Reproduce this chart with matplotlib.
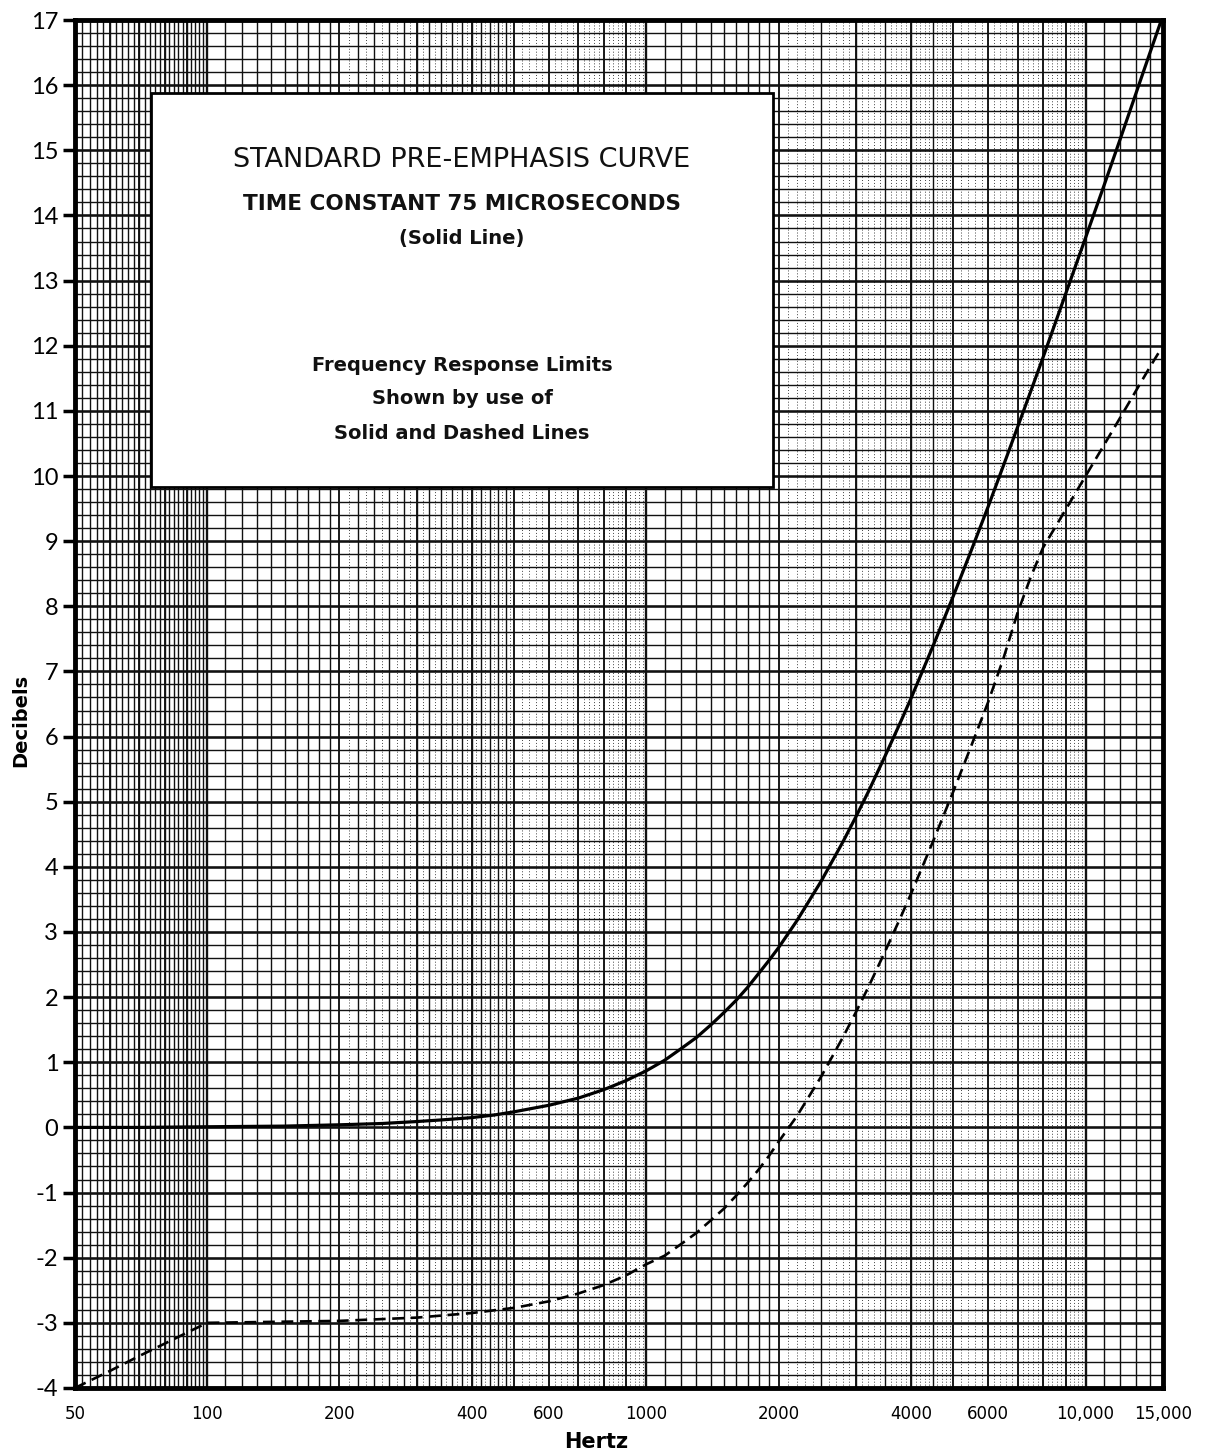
import matplotlib.pyplot as plt
import numpy as np
from matplotlib.patches import Rectangle
from matplotlib.ticker import NullLocator

plt.rcParams['font.family'] = ['DejaVu Sans']
plt.rcParams['axes.unicode_minus'] = False

# --- datos ---
hz_solid = [50, 70, 100, 150, 200, 250, 300, 350, 400, 450, 500, 600, 700, 800, 900,
            1000, 1100, 1200, 1300, 1400, 1500, 1600, 1700, 1800, 1900, 2000, 2200, 2500,
            2800, 3000, 3200, 3500, 3800, 4000, 4200, 4500, 5000, 5500, 6000, 6500, 7000,
            7500, 8000, 8500, 9000, 10000, 11000, 12000, 13000, 14000, 15000]
db_solid = [0.0, 0.0, 0.01, 0.02, 0.04, 0.06, 0.09, 0.12, 0.15, 0.19, 0.24, 0.34, 0.45, 0.58, 0.72,
            0.87, 1.03, 1.21, 1.38, 1.57, 1.76, 1.95, 2.15, 2.36, 2.56, 2.76, 3.17, 3.78,
            4.38, 4.77, 5.15, 5.71, 6.24, 6.58, 6.92, 7.40, 8.16, 8.87, 9.53, 10.16, 10.75,
            11.30, 11.82, 12.32, 12.79, 13.66, 14.45, 15.18, 15.86, 16.49, 17.07]

hz_dashed = [50, 60, 70, 80, 90, 100, 200, 300, 400, 500, 600, 700, 800, 900,
             1000, 1100, 1200, 1300, 1400, 1500, 1600, 1700, 1800, 1900, 2000, 2200, 2500,
             2800, 3000, 3200, 3500, 3800, 4000, 4500, 5000, 5500, 6000, 6500, 7000, 7500,
             8000, 9000, 10000, 11000, 12000, 13000, 14000, 15000]
db_dashed = [-4.0, -3.74, -3.51, -3.32, -3.15, -3.0, -2.97, -2.92, -2.85, -2.77, -2.67, -2.55, -2.42, -2.27,
             -2.1, -1.97, -1.79, -1.62, -1.43, -1.25, -1.05, -0.85, -0.65, -0.44, -0.22, 0.17, 0.78,
             1.38, 1.77, 2.15, 2.71, 3.24, 3.58, 4.40, 5.16, 5.87, 6.53, 7.2, 7.9, 8.45,
             8.9, 9.48, 10.0, 10.47, 10.9, 11.3, 11.67, 12.0]

x_ticks = [50, 100, 200, 400, 600, 1000, 2000, 4000, 6000, 10000, 15000]
x_labels = ['50', '100', '200', '400', '600', '1000', '2000', '4000', '6000', '10,000', '15,000']
y_ticks = list(range(-4, 18))

box_lines = [
    ('STANDARD PRE-EMPHASIS CURVE', 0.8977, 19.5, 'normal'),
    ('TIME CONSTANT 75 MICROSECONDS', 0.8655, 15.5, 'bold'),
    ('(Solid Line)', 0.8406, 14, 'bold'),
    ('Frequency Response Limits', 0.7471, 14, 'bold'),
    ('Shown by use of', 0.7230, 14, 'bold'),
    ('Solid and Dashed Lines', 0.6981, 14, 'bold'),
]

INK = '#111111'

fig = plt.figure(figsize=(12.05, 14.52), dpi=100)
ax = fig.add_axes([0.0622, 0.0441, 0.9029, 0.9421])
ax.set_xscale('log')
ax.set_xlim(50, 15000)
ax.set_ylim(-4, 17)

# --- papel semilogarítmico ---
# líneas punteadas finas (textura del papel)
fine = np.concatenate([np.arange(210, 500, 10), np.arange(520, 1000, 20),
                       np.arange(2100, 5000, 100), np.arange(5200, 10000, 200)])
ax.vlines(fine, -4, 17, colors='#444444', lw=0.7, linestyles=(0, (1, 2)), zorder=1)

minor = np.concatenate([np.arange(52, 100, 2), np.arange(110, 200, 10), np.arange(220, 500, 20),
                        np.arange(1100, 2000, 100), np.arange(2500, 5000, 500),
                        np.arange(11000, 15000, 1000)])
ax.vlines(minor, -4, 17, colors=INK, lw=1.0, zorder=1.2)

major = [60, 70, 80, 90, 200, 300, 400, 500, 600, 700, 800, 900,
         2000, 3000, 4000, 5000, 6000, 7000, 8000, 9000]
ax.vlines(major, -4, 17, colors=INK, lw=1.35, zorder=1.3)
ax.vlines([100, 1000, 10000], -4, 17, colors=INK, lw=1.7, zorder=1.3)

ax.hlines(np.arange(-4, 17.01, 0.2), 50, 15000, colors=INK, lw=1.0, zorder=1.2)
ax.hlines(np.arange(-4, 18, 1), 50, 15000, colors=INK, lw=1.8, zorder=1.3)

# --- curvas ---
ax.plot(hz_solid, db_solid, color='black', lw=2.3, zorder=4)
ax.plot(hz_dashed, db_dashed, color='black', lw=1.9, zorder=4, dashes=(4.5, 2.5))

# --- recuadro de texto ---
ax.add_patch(Rectangle((0.0699, 0.6586), 0.5716, 0.288, transform=ax.transAxes,
                       facecolor='white', edgecolor='black', lw=2, zorder=3))
for txt, yy, fs, fw in box_lines:
    ax.text(0.3557, yy, txt, transform=ax.transAxes, ha='center', va='center',
            fontsize=fs, fontweight=fw, color='#111111', zorder=5)

# --- ejes ---
for sp in ax.spines.values():
    sp.set_linewidth(3.5)
    sp.set_zorder(6)

ax.set_xticks(x_ticks)
ax.set_xticklabels(x_labels)
ax.xaxis.set_minor_locator(NullLocator())
ax.tick_params(axis='x', length=0, pad=12, labelsize=12)
ax.set_yticks(y_ticks)
ax.set_yticklabels([str(v) for v in y_ticks], family=['Lato', 'DejaVu Sans'])
ax.tick_params(axis='y', direction='out', length=9, width=2.5, pad=3, labelsize=17)

ax.set_xlabel('Hertz', fontsize=15, fontweight='bold')
ax.xaxis.set_label_coords(0.479, -0.032)
ax.set_ylabel('Decibels', fontsize=14, fontweight='bold')
ax.yaxis.set_label_coords(-0.041, 0.488)

fig.savefig('out.png', dpi=100)
